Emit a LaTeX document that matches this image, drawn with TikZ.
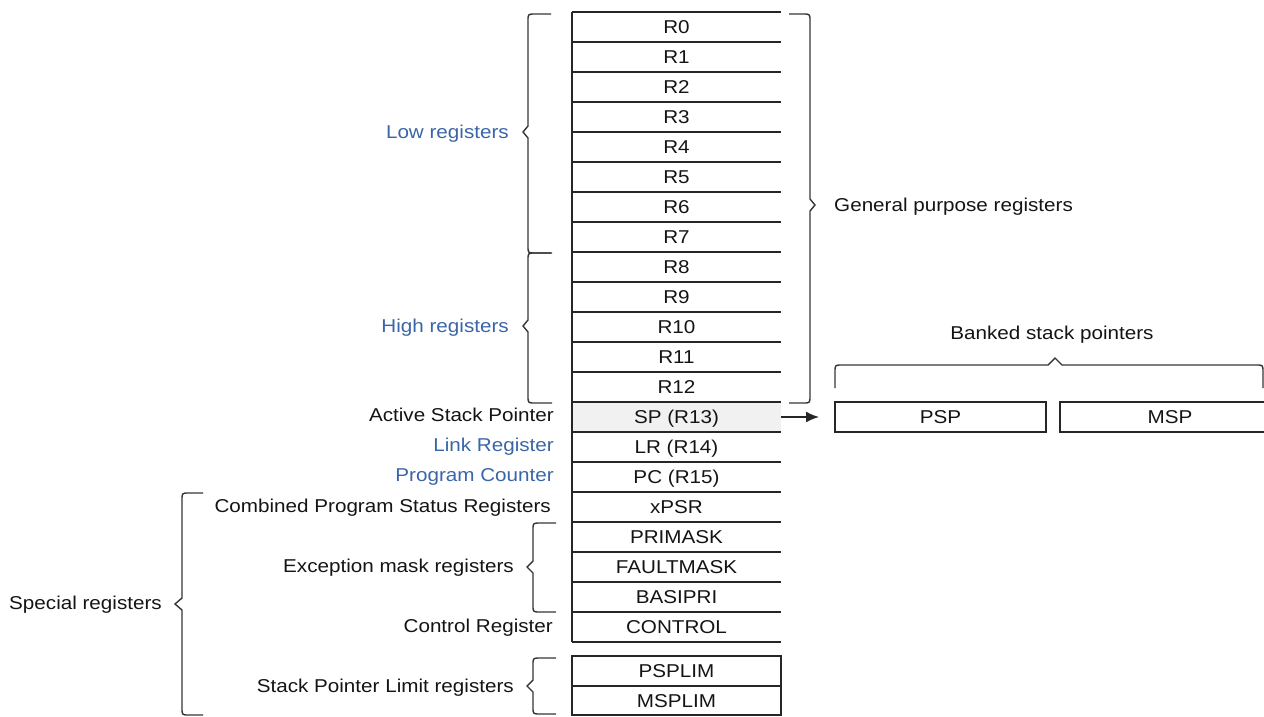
\documentclass[tikz,border=0pt]{standalone}
\usepackage{fontspec}
\setmainfont{Liberation Sans}[FakeStretch=1.11]
\usetikzlibrary{arrows.meta}

\definecolor{regblue}{HTML}{3A65A8}
\definecolor{rulecol}{HTML}{262626}
\definecolor{bracecol}{HTML}{363636}
\definecolor{spfill}{HTML}{F1F1F1}

% left-opening brace: #1 tick end x, #2 spine x, #3 tip x, #4 top y, #5 bottom y, #6 tip y
\newcommand{\LeftBrace}[6]{%
  \draw[bracepath] (#1,#4) -- ({#2+7},#4) .. controls (#2,#4) .. (#2,{#4+7})
    -- (#2,{#6-6}) -- (#3,#6) -- (#2,{#6+6}) -- (#2,{#5-7})
    .. controls (#2,#5) .. ({#2+7},#5) -- (#1,#5);}
% right-opening brace, same arguments
\newcommand{\RightBrace}[6]{%
  \draw[bracepath] (#1,#4) -- ({#2-7},#4) .. controls (#2,#4) .. (#2,{#4+7})
    -- (#2,{#6-6}) -- (#3,#6) -- (#2,{#6+6}) -- (#2,{#5-7})
    .. controls (#2,#5) .. ({#2-7},#5) -- (#1,#5);}

\tikzset{
  txt/.style={font=\fontsize{18.6}{20}\selectfont, inner sep=0pt,
              text height=13.3pt, text depth=0pt},
  cell/.style={txt, minimum width=209pt, minimum height=30pt, text=black!92},
  lbl/.style={txt, anchor=east, text=black!92},
  bluelbl/.style={txt, anchor=east, text=regblue},
  rowrule/.style={draw=rulecol, line width=1.6pt},
  boxed/.style={cell, draw=rulecol, line width=1.6pt},
  bracepath/.style={draw=bracecol, line width=1.4pt},
}

\begin{document}
\begin{tikzpicture}[x=1pt, y=-1pt]
\useasboundingbox (0,0) rectangle (1264,716);
\clip (0,0) rectangle (1264,716);

% shaded active stack pointer row
\fill[spfill] (572,402) rectangle (781,432);

% register column
\foreach \lab [count=\i from 0] in {R0,R1,R2,R3,R4,R5,R6,R7,R8,R9,R10,R11,R12,
    SP (R13),LR (R14),PC (R15),xPSR,PRIMASK,FAULTMASK,BASIPRI,CONTROL}
  \node[cell] (cell\i) at (676.5,{27+30*\i}) {\lab};
\foreach \i in {0,...,20}
  \draw[rowrule] (cell\i.north west) -- (cell\i.north east);
\draw[rowrule] (cell20.south west) -- (cell20.south east);
\draw[rowrule] (cell0.north west) -- (cell20.south west);

% stack pointer limit registers
\node[cell] (lim0) at (676.5,671) {PSPLIM};
\node[cell, minimum height=29pt] (lim1) at (676.5,700.5) {MSPLIM};
\draw[rowrule] (lim0.north west) rectangle (lim1.south east);
\draw[rowrule] (lim0.south west) -- (lim0.south east);

% banked stack pointers
\node[boxed, minimum width=211pt] (psp) at (940.5,417) {PSP};
\node[boxed, minimum width=220pt] (msp) at (1170,417) {MSP};
\node[txt, text=black!92] (banked) at (1052,333) {Banked stack pointers};
\coordinate (spend) at (819,417);
\draw[draw=rulecol, line width=1.6pt, -{Latex[length=13pt,width=11pt]}] (cell13.east) -- (spend);

% labels
\node[bluelbl] (low) at (509,132) {Low registers};
\node[bluelbl] (high) at (509,326) {High registers};
\node[lbl] (asp) at (554,415) {Active Stack Pointer};
\node[bluelbl] (lr) at (554,445) {Link Register};
\node[bluelbl] (pc) at (554,475) {Program Counter};
\node[lbl] (cpsr) at (551,506) {Combined Program Status Registers};
\node[lbl] (emr) at (514,566) {Exception mask registers};
\node[lbl] (ctrl) at (553,626) {Control Register};
\node[lbl] (splim) at (514,686) {Stack Pointer Limit registers};
\node[txt, anchor=west, text=black!92] (special) at (9,603) {Special registers};
\node[txt, anchor=west, text=black!92] (gpr) at (834,205) {General purpose registers};

% braces
\LeftBrace{551}{528}{523}{14}{253}{132}
\LeftBrace{552}{528}{523}{253}{403}{326}
\LeftBrace{203}{182}{175}{493}{715}{604}
\LeftBrace{556}{533}{527}{523}{612}{567}
\LeftBrace{556}{533}{527}{658}{714}{686}
\RightBrace{789}{810}{815}{14}{403}{205}
\draw[bracepath] (835,388) -- (835,372) .. controls (835,365) .. (842,365)
  -- (1048,365) -- (1055,358) -- (1062,365) -- (1256,365)
  .. controls (1263,365) .. (1263,372) -- (1263,388);
\end{tikzpicture}
\end{document}
